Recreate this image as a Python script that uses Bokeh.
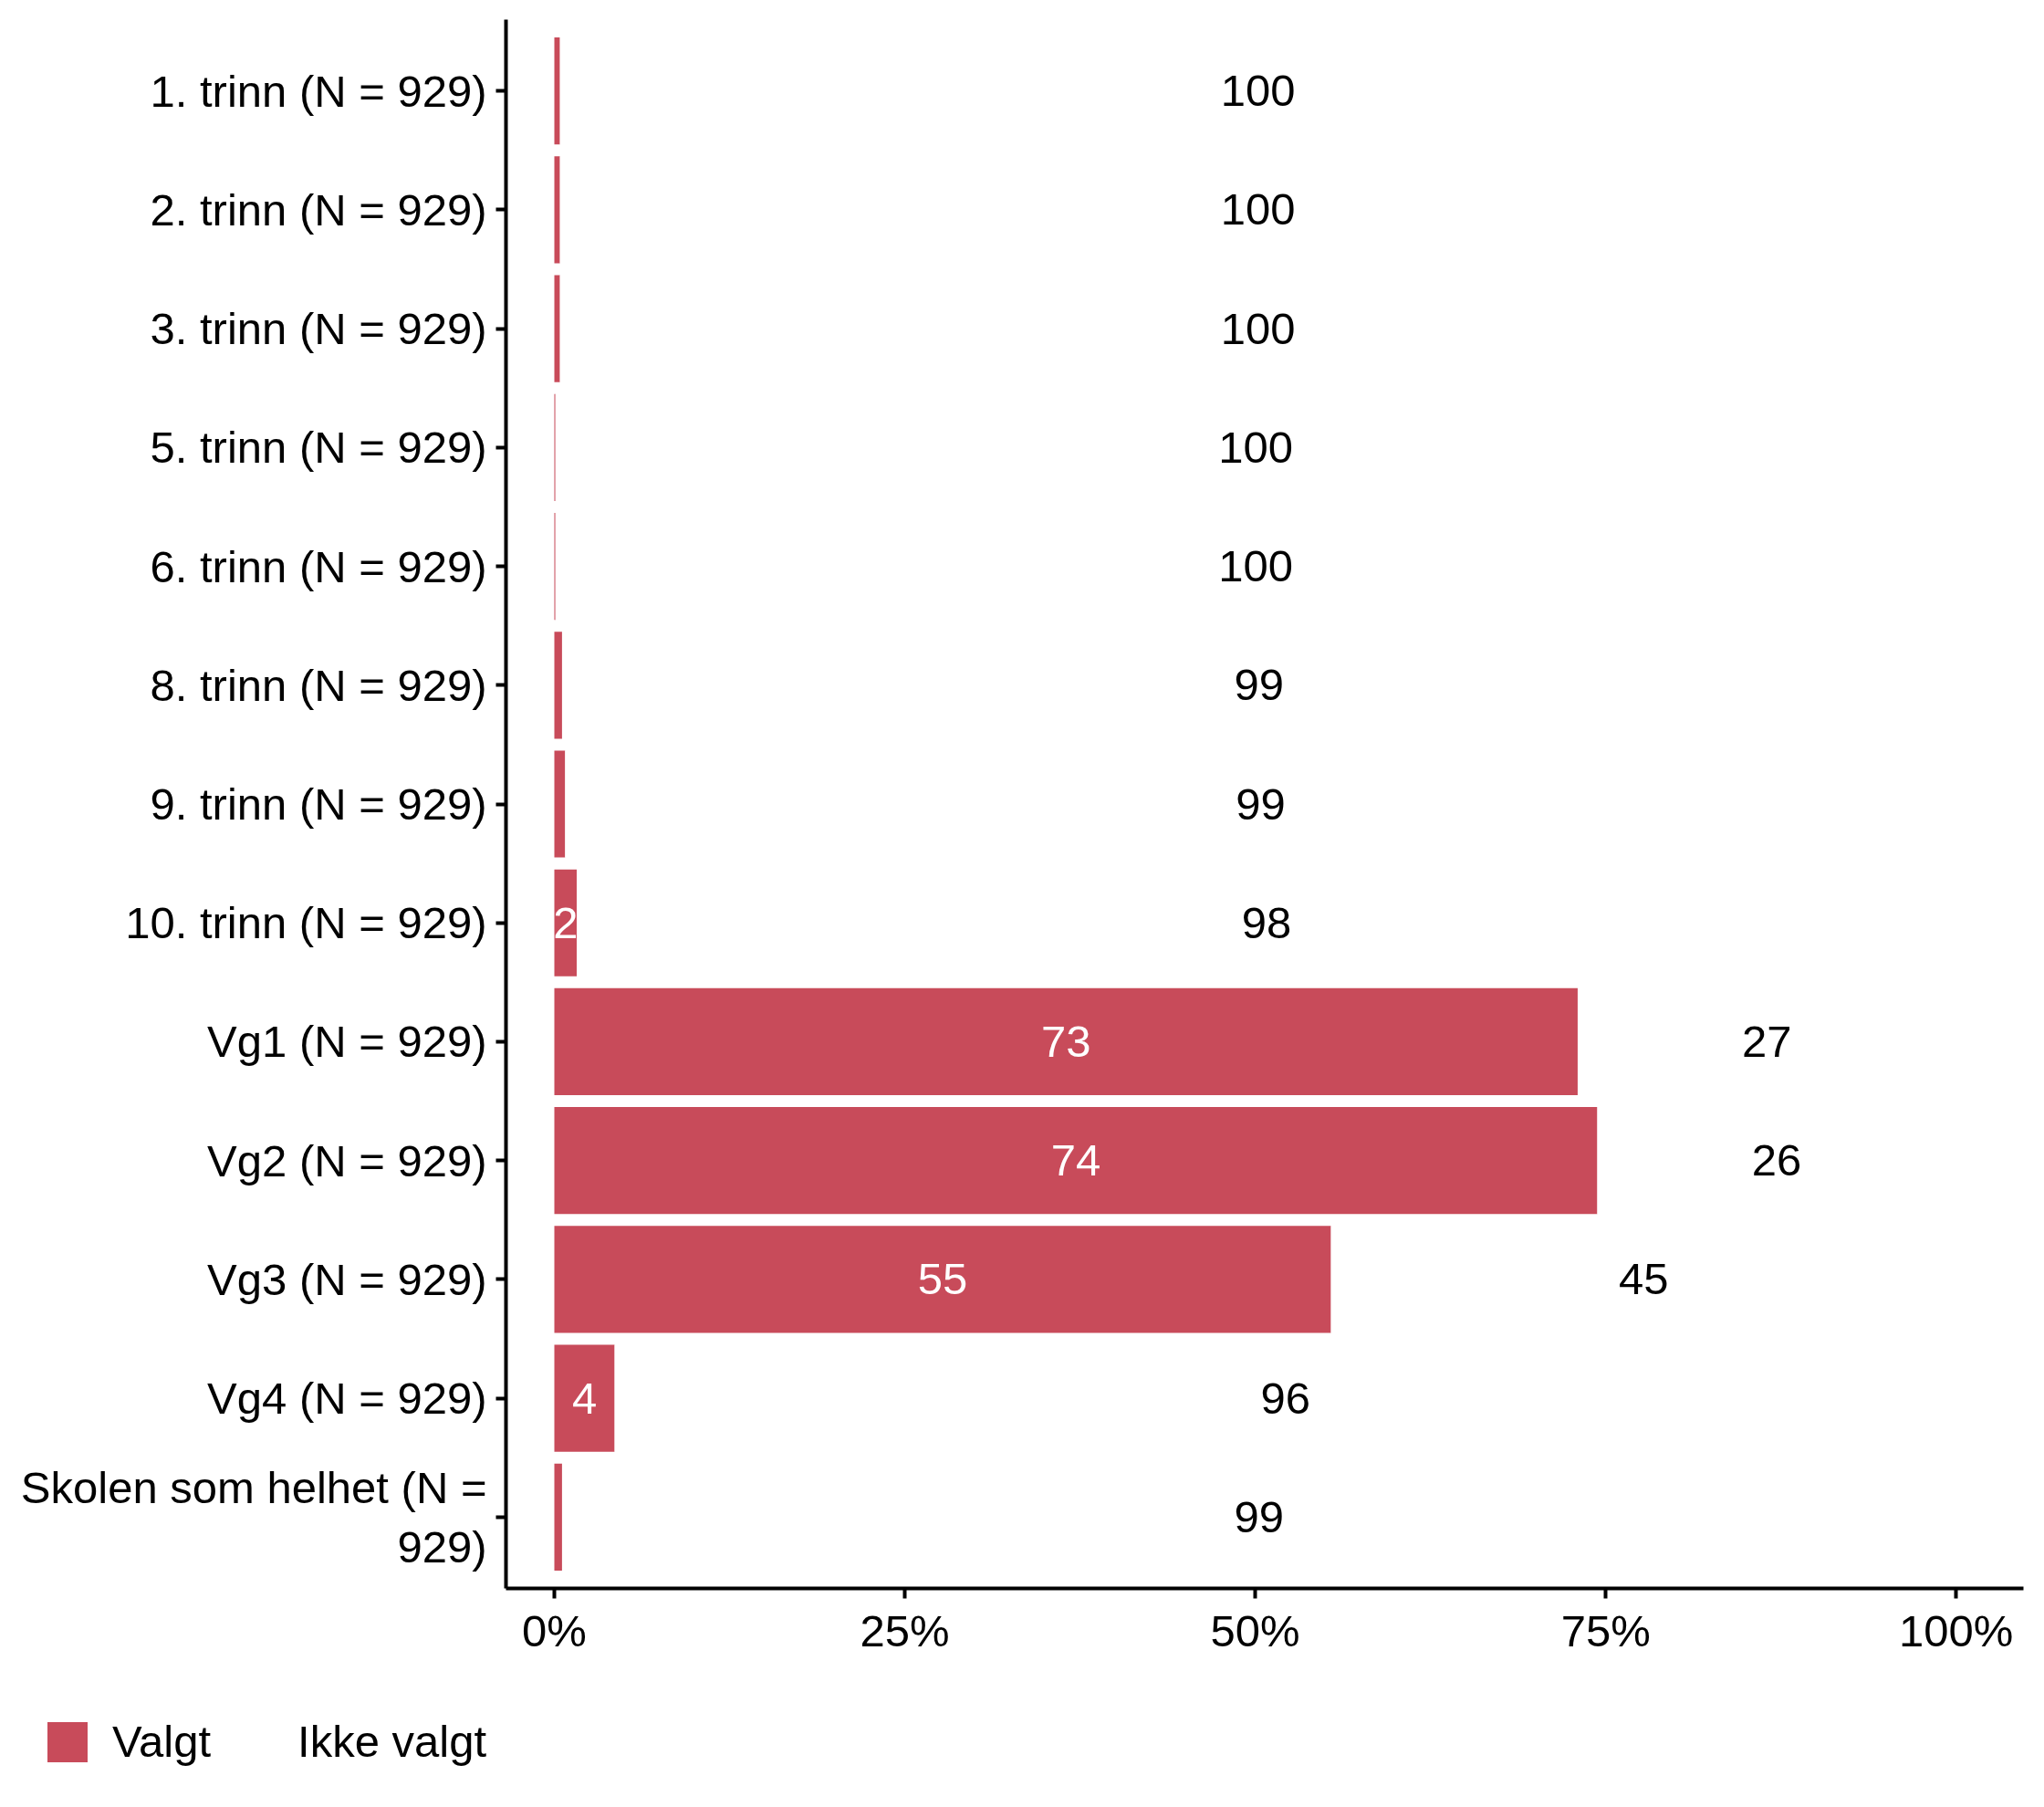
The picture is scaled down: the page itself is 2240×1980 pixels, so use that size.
from bokeh.plotting import figure
from bokeh.layouts import column
from bokeh.models import (FactorRange, Range1d, ColumnDataSource, Legend, LegendItem,
                          FixedTicker, PrintfTickFormatter)
from bokeh.core.properties import value
from bokeh.embed import file_html
from bokeh.resources import INLINE

categories = ["1. trinn (N = 929)", "2. trinn (N = 929)", "3. trinn (N = 929)",
              "5. trinn (N = 929)", "6. trinn (N = 929)", "8. trinn (N = 929)",
              "9. trinn (N = 929)", "10. trinn (N = 929)", "Vg1 (N = 929)",
              "Vg2 (N = 929)", "Vg3 (N = 929)", "Vg4 (N = 929)",
              "Skolen som helhet (N =\n929)"]
valgt = [0.4, 0.4, 0.4, 0.08, 0.08, 0.55, 0.77, 1.6, 73.0, 74.4, 55.4, 4.3, 0.55]
ikke_valgt = [99.6, 99.6, 99.6, 99.92, 99.92, 99.45, 99.23, 98.4, 27.0, 25.6, 44.6, 95.7, 99.45]
series_names = ["Valgt", "Ikke valgt"]
x_ticks = [0, 25, 50, 75, 100]

FONT = "Liberation Sans"
FS = "49px"
RED = "#C84B5A"

valgt_lbl = [str(int(round(v))) if v >= 1.5 else "" for v in valgt]
ikke_lbl = [str(int(round(v))) for v in ikke_valgt]

src = ColumnDataSource(dict(
    cat=categories,
    valgt=valgt,
    ikke=ikke_valgt,
    zero=[0] * len(categories),
    total=[a + b for a, b in zip(valgt, ikke_valgt)],
    valgt_mid=[v / 2 for v in valgt],
    ikke_mid=[a + b / 2 for a, b in zip(valgt, ikke_valgt)],
    valgt_lbl=valgt_lbl,
    ikke_lbl=ikke_lbl,
))

y_range = FactorRange(*list(reversed(categories)), range_padding=0.1,
                      range_padding_units="absolute")

p = figure(width=2232, height=1830, y_range=y_range, x_range=Range1d(-3.45, 104.8),
           output_backend="svg", toolbar_location=None,
           min_border_left=554, min_border_right=15, min_border_top=21,
           min_border_bottom=90)
p.frame_align = False
p.outline_line_color = None
p.xgrid.visible = False
p.ygrid.visible = False
p.background_fill_color = "white"
p.border_fill_color = "white"

r1 = p.hbar(y="cat", left="zero", right="valgt", height=0.9, source=src,
            fill_color=RED, line_color=None)
r2 = p.hbar(y="cat", left="valgt", right="total", height=0.9, source=src,
            fill_color="white", line_color=None)

p.text(x="valgt_mid", y="cat", text="valgt_lbl", source=src, text_color="white",
       text_font=value(FONT), text_font_size=FS, text_align="center",
       text_baseline="middle")
p.text(x="ikke_mid", y="cat", text="ikke_lbl", source=src, text_color="black",
       text_font=value(FONT), text_font_size=FS, text_align="center",
       text_baseline="middle")

for ax in (p.xaxis[0], p.yaxis[0]):
    ax.axis_line_color = "black"
    ax.axis_line_width = 4
    ax.major_tick_line_color = "black"
    ax.major_tick_line_width = 4
    ax.major_tick_in = 0
    ax.major_tick_out = 11
    ax.minor_tick_line_color = None
    ax.major_label_text_font = FONT
    ax.major_label_text_font_size = FS
    ax.major_label_text_color = "black"

p.yaxis.major_label_standoff = 10
p.xaxis.major_label_standoff = 8
p.xaxis.ticker = FixedTicker(ticks=x_ticks)
p.xaxis.formatter = PrintfTickFormatter(format="%d%%")

# legend strip below the chart
lf = figure(width=2232, height=140, x_range=Range1d(0, 1), y_range=Range1d(0, 1),
            output_backend="svg", toolbar_location=None,
            x_axis_type=None, y_axis_type=None,
            min_border_left=0, min_border_right=0, min_border_top=0, min_border_bottom=0)
lf.frame_align = False
lf.outline_line_color = None
lf.xgrid.visible = False
lf.ygrid.visible = False
lr1 = lf.hbar(y=[5], left=[5], right=[6], height=0.9, fill_color=RED, line_color=None)
lr2 = lf.hbar(y=[5], left=[5], right=[6], height=0.9, fill_color="white", line_color=None)

legend = Legend(items=[LegendItem(label=series_names[0], renderers=[lr1]),
                       LegendItem(label=series_names[1], renderers=[lr2])],
                orientation="horizontal", location=(46, 34),
                glyph_width=55, glyph_height=55, label_standoff=22, spacing=18,
                padding=0, margin=0, border_line_color=None,
                background_fill_alpha=0, label_text_font=FONT,
                label_text_font_size=FS, label_text_color="black")
lf.add_layout(legend, "center")

layout = column(p, lf, spacing=0)
open("out.html", "w").write(file_html(layout, INLINE))
